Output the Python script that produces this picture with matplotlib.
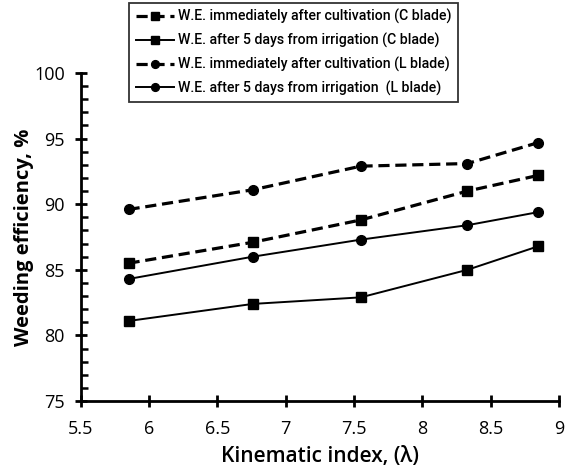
import matplotlib
matplotlib.use("Agg")
import matplotlib.pyplot as plt
from matplotlib.ticker import MultipleLocator

plt.rcParams['font.family'] = ['Open Sans', 'DejaVu Sans']

kinematic_index = [5.85, 6.76, 7.55, 8.33, 8.85]
we_imm_c = [85.5, 87.1, 88.8, 91.0, 92.2]
we_5d_c = [81.1, 82.4, 82.9, 85.0, 86.8]
we_imm_l = [89.6, 91.1, 92.9, 93.1, 94.7]
we_5d_l = [84.3, 86.0, 87.3, 88.4, 89.4]

labels = [
    "W.E. immediately after cultivation (C blade)",
    "W.E. after 5 days from irrigation (C blade)",
    "W.E. immediately after cultivation (L blade)",
    "W.E. after 5 days from irrigation  (L blade)",
]

fig = plt.figure(figsize=(5.66, 4.75), dpi=100)
ax = fig.add_axes([0.1426, 0.1558, 0.845, 0.6905])

dash = (0, (3.5, 1.8))
ax.plot(kinematic_index, we_imm_c, ls=dash, lw=2.3, color='black', marker='s', ms=7, label=labels[0])
ax.plot(kinematic_index, we_5d_c, ls='-', lw=1.4, color='black', marker='s', ms=7, label=labels[1])
ax.plot(kinematic_index, we_imm_l, ls=dash, lw=2.3, color='black', marker='o', ms=7, label=labels[2])
ax.plot(kinematic_index, we_5d_l, ls='-', lw=1.4, color='black', marker='o', ms=7, label=labels[3])

ax.set_xlim(5.5, 9)
ax.set_ylim(75, 100)
ax.yaxis.set_major_locator(MultipleLocator(5))
ax.yaxis.set_minor_locator(MultipleLocator(1))
ax.set_xticks([5.5, 6, 6.5, 7, 7.5, 8, 8.5, 9])
ax.set_xticklabels(['5.5', '6', '6.5', '7', '7.5', '8', '8.5', '9'])

for s in ['top', 'right']:
    ax.spines[s].set_visible(False)
for s in ['left', 'bottom']:
    ax.spines[s].set_linewidth(2)
ax.tick_params(axis='both', which='major', direction='inout', length=9, width=2, labelsize=13)
ax.tick_params(axis='x', which='major', pad=9)
ax.tick_params(axis='y', which='major', pad=7)
ax.tick_params(axis='y', which='minor', direction='in', length=5, width=1.8)

ax.set_xlabel("Kinematic index, (λ)", fontsize=15, fontweight='semibold', labelpad=6)
ax.set_ylabel("Weeding efficiency, %", fontsize=14.5, fontweight='bold', labelpad=0)

leg = fig.legend(loc='upper center', bbox_to_anchor=(0.519, 0.994), frameon=True, fancybox=False,
                 edgecolor='black', prop={'family': 'Roboto', 'size': 10.2, 'weight': 'medium'},
                 handlelength=2.7, handletextpad=0.3, markerscale=0.8,
                 labelspacing=0.6, borderpad=0.45, borderaxespad=0)
leg.get_frame().set_linewidth(1.3)

fig.savefig("out.png", dpi=100)
